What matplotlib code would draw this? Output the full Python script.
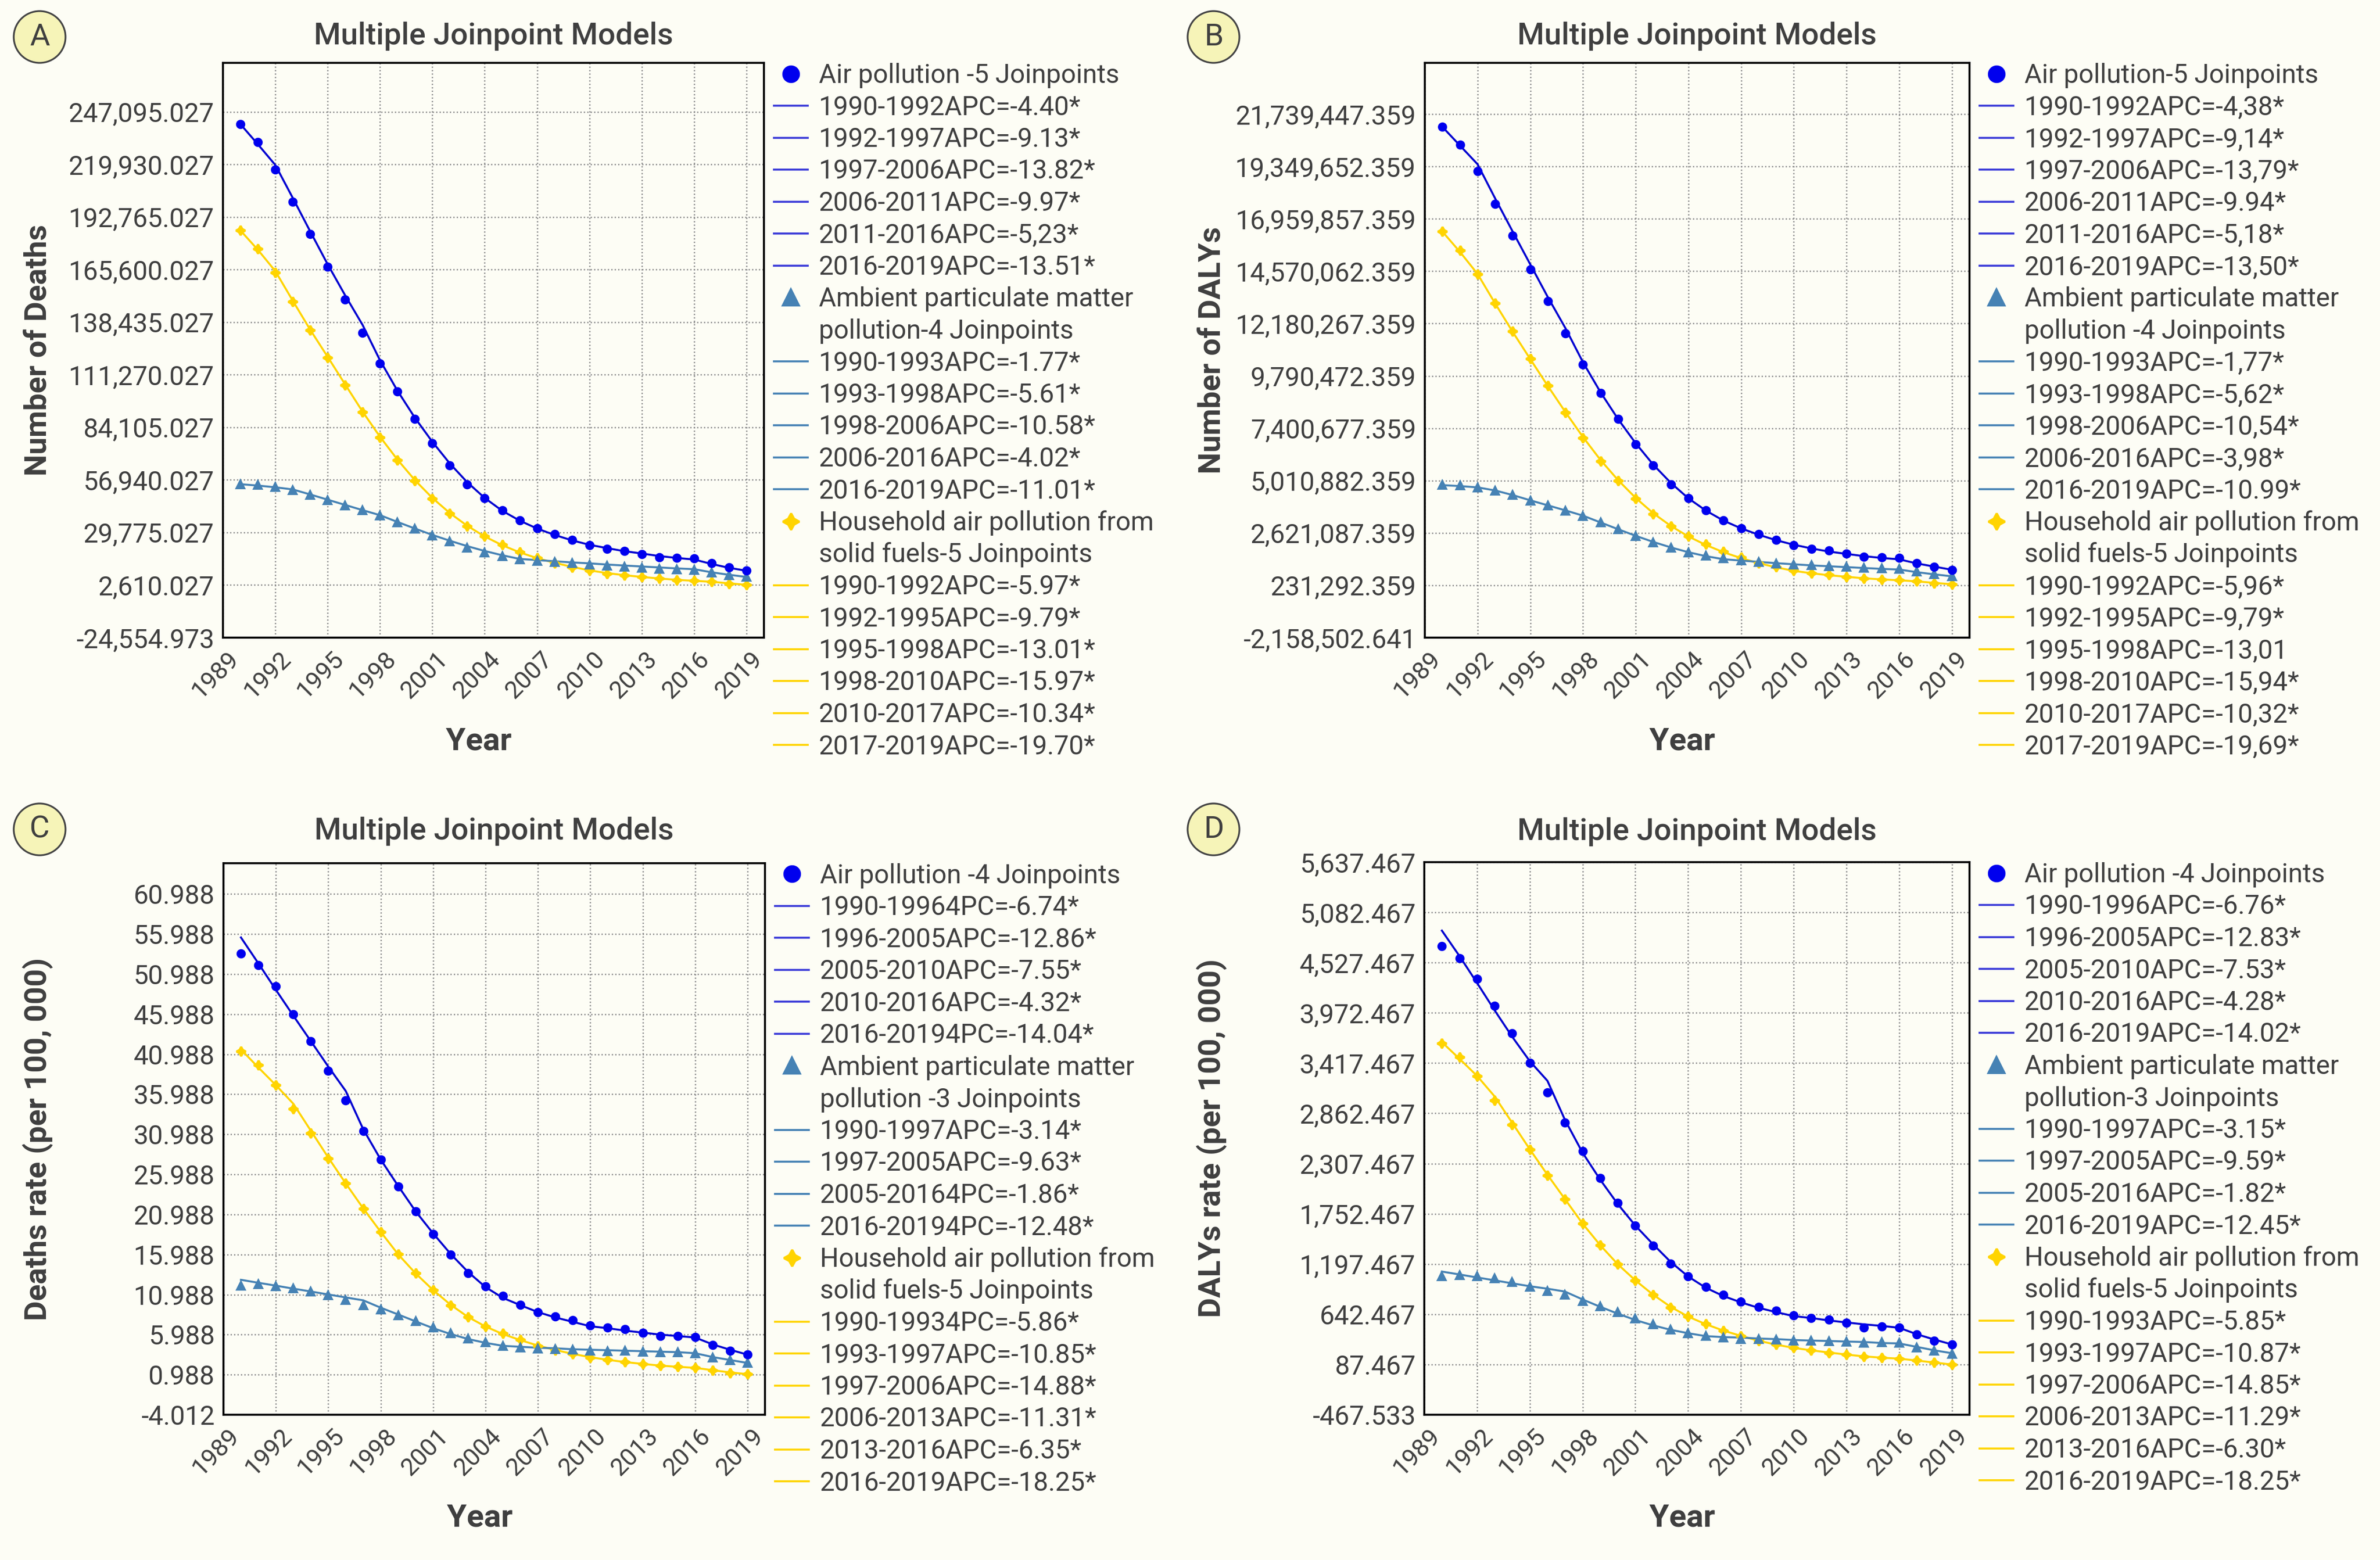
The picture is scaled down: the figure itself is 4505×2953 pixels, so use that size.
import matplotlib as mpl
mpl.use("Agg")
import matplotlib.pyplot as plt
from matplotlib.lines import Line2D
from matplotlib.patches import Ellipse
from matplotlib.ticker import FixedLocator, FuncFormatter
from matplotlib.transforms import ScaledTranslation

plt.rcParams['font.family'] = ['Roboto', 'DejaVu Sans']

years = list(range(1990, 2020))
xticks = [1989, 1992, 1995, 1998, 2001, 2004, 2007, 2010, 2013, 2016, 2019]

# ---------------- Panel A: Number of deaths ----------------
a_air_obs = [240700, 231300, 217300, 200600, 183800, 167000, 150000, 133000, 117200, 102500,
             88500, 76000, 64400, 54700, 47600, 41200, 36150, 31800, 28800, 26000,
             23200, 21400, 20100, 18600, 16800, 16600, 16300, 14000, 11750, 10200]
a_air_fit = [240700, 230300, 219600, 202600, 185300, 168300, 152300, 137000, 118700, 103000,
             89000, 76600, 65400, 55700, 47600, 41000, 35900, 31800, 28500, 25700,
             23400, 21700, 20100, 18900, 17600, 16600, 15800, 13500, 11500, 10000]
a_amb_obs = [54700, 54200, 53200, 51650, 49100, 46300, 43800, 41200, 38400, 34900,
             31600, 28000, 25000, 21900, 19400, 17600, 15800, 15100, 14550, 13800,
             13000, 12500, 12000, 11500, 11000, 10700, 10500, 8960, 7700, 6700]
a_amb_fit = [54700, 54000, 53100, 52000, 49400, 46700, 44000, 41300, 38700, 35200,
             31800, 28500, 25500, 22700, 20200, 18000, 16100, 15500, 14900, 14300,
             13800, 13200, 12700, 12200, 11700, 11200, 10800, 9200, 7900, 6800]
a_hh_obs = [185800, 176400, 164000, 149000, 134200, 120000, 106000, 92000, 78800, 67200,
            56500, 47300, 39500, 32900, 27800, 23400, 19600, 16600, 14000, 11800,
            10000, 8450, 7700, 6700, 5900, 5150, 4900, 4400, 3400, 2610]
a_hh_fit = [185800, 175800, 164800, 149500, 134500, 120500, 106300, 92200, 79200, 67400,
            56800, 47600, 39800, 33200, 27700, 23200, 19500, 16500, 14100, 12000,
            10200, 8800, 7700, 6800, 6000, 5300, 4800, 4300, 3500, 2700]
a_yticks = [-24554.973, 2610.027, 29775.027, 56940.027, 84105.027, 111270.027,
            138435.027, 165600.027, 192765.027, 219930.027, 247095.027]

# ---------------- Panel B: Number of DALYs ----------------
b_air_obs = [21157000, 20347000, 19142000, 17645000, 16191000, 14653000, 13198000, 11723000, 10310000, 9001000,
             7816000, 6673000, 5697000, 4845000, 4200000, 3660000, 3203000, 2829000, 2559000, 2309000,
             2060000, 1894000, 1810000, 1665000, 1520000, 1499000, 1478000, 1249000, 1083000, 938000]
b_air_fit = [21157000, 20305000, 19454000, 17895000, 16378000, 14882000, 13386000, 11972000, 10414000, 9043000,
             7816000, 6715000, 5738000, 4907000, 4200000, 3639000, 3182000, 2829000, 2538000, 2288000,
             2081000, 1914000, 1769000, 1665000, 1561000, 1478000, 1416000, 1229000, 1083000, 938000]
b_amb_obs = [4803000, 4782000, 4699000, 4553000, 4346000, 4096000, 3868000, 3639000, 3390000, 3099000,
             2787000, 2475000, 2185000, 1935000, 1727000, 1582000, 1457000, 1353000, 1291000, 1229000,
             1166000, 1146000, 1104000, 1062000, 1021000, 1000000, 979000, 855000, 730000, 647000]
b_amb_fit = [4803000, 4760000, 4700000, 4560000, 4350000, 4110000, 3880000, 3650000, 3410000, 3100000,
             2790000, 2490000, 2210000, 1960000, 1740000, 1560000, 1420000, 1360000, 1300000, 1240000,
             1190000, 1140000, 1100000, 1060000, 1020000, 980000, 950000, 830000, 730000, 640000]
b_hh_obs = [16378000, 15526000, 14445000, 13115000, 11827000, 10580000, 9333000, 8107000, 6964000, 5904000,
            5011000, 4180000, 3494000, 2933000, 2475000, 2101000, 1769000, 1499000, 1249000, 1062000,
            896000, 792000, 709000, 626000, 543000, 501000, 460000, 418000, 335000, 273000]
b_hh_fit = [16378000, 15450000, 14445000, 13100000, 11800000, 10560000, 9330000, 8140000, 7000000, 5950000,
            5030000, 4220000, 3520000, 2940000, 2460000, 2070000, 1740000, 1470000, 1240000, 1050000,
            890000, 780000, 690000, 620000, 550000, 500000, 460000, 410000, 340000, 280000]
b_yticks = [-2158502.641, 231292.359, 2621087.359, 5010882.359, 7400677.359, 9790472.359,
            12180267.359, 14570062.359, 16959857.359, 19349652.359, 21739447.359]

# ---------------- Panel C: Deaths rate ----------------
c_air_obs = [53.55, 52.09, 49.46, 45.98, 42.63, 38.90, 35.24, 31.39, 27.85, 24.49,
             21.38, 18.51, 15.95, 13.63, 12.04, 10.82, 9.72, 8.80, 8.25, 7.77,
             7.16, 6.85, 6.67, 6.18, 5.81, 5.81, 5.69, 4.71, 3.98, 3.49]
c_air_fit = [55.57, 52.33, 49.03, 45.80, 42.63, 39.45, 36.40, 31.63, 27.85, 24.55,
             21.38, 18.63, 16.07, 13.81, 11.92, 10.57, 9.66, 8.80, 8.13, 7.58,
             7.03, 6.79, 6.48, 6.24, 5.99, 5.81, 5.63, 4.77, 4.10, 3.49]
c_amb_obs = [12.10, 12.28, 12.04, 11.73, 11.37, 10.88, 10.33, 9.66, 9.11, 8.38,
             7.64, 6.85, 6.12, 5.51, 5.02, 4.59, 4.35, 4.23, 4.16, 4.10,
             3.98, 3.92, 3.98, 3.86, 3.74, 3.74, 3.67, 3.13, 2.76, 2.45]
c_amb_fit = [12.83, 12.46, 12.10, 11.73, 11.37, 11.00, 10.63, 10.27, 9.35, 8.50,
             7.64, 6.79, 6.06, 5.44, 4.96, 4.59, 4.47, 4.35, 4.28, 4.16,
             4.10, 4.04, 3.98, 3.92, 3.86, 3.80, 3.67, 3.19, 2.82, 2.45]
c_hh_obs = [41.34, 39.63, 37.13, 34.20, 31.15, 27.97, 24.86, 21.69, 18.82, 16.01,
            13.63, 11.55, 9.66, 8.19, 7.03, 6.12, 5.32, 4.59, 4.04, 3.55,
            3.13, 2.82, 2.58, 2.33, 2.09, 1.97, 1.84, 1.54, 1.23, 1.05]
c_hh_fit = [41.59, 39.33, 37.13, 34.81, 31.45, 28.09, 24.86, 21.75, 18.82, 16.01,
            13.63, 11.55, 9.72, 8.19, 7.00, 6.05, 5.30, 4.62, 4.07, 3.58,
            3.17, 2.84, 2.56, 2.33, 2.12, 1.97, 1.84, 1.55, 1.27, 1.05]
c_yticks = [-4.012, 0.988, 5.988, 10.988, 15.988, 20.988, 25.988, 30.988,
            35.988, 40.988, 45.988, 50.988, 55.988, 60.988]

# ---------------- Panel D: DALYs rate ----------------
d_air_obs = [4708, 4573, 4346, 4049, 3746, 3422, 3092, 2762, 2444, 2146,
             1871, 1622, 1401, 1201, 1060, 947, 855, 779, 725, 682,
             628, 601, 585, 547, 493, 509, 493, 417, 352, 309]
d_air_fit = [4881, 4600, 4303, 4000, 3708, 3438, 3222, 2789, 2427, 2130,
             1860, 1622, 1417, 1222, 1060, 936, 844, 774, 714, 666,
             622, 601, 574, 552, 531, 514, 493, 422, 363, 309]
d_amb_obs = [1060, 1071, 1060, 1038, 995, 947, 898, 855, 790, 730,
             666, 595, 531, 471, 433, 401, 385, 368, 368, 363,
             352, 347, 341, 336, 325, 331, 325, 276, 239, 206]
d_amb_fit = [1114, 1082, 1049, 1017, 984, 952, 925, 893, 806, 725,
             649, 579, 520, 471, 433, 401, 390, 385, 374, 368,
             358, 352, 347, 341, 336, 325, 320, 282, 244, 212]
d_hh_obs = [3638, 3486, 3276, 3005, 2735, 2460, 2179, 1914, 1644, 1406,
            1195, 1017, 855, 720, 617, 536, 460, 401, 347, 309,
            271, 244, 217, 195, 174, 163, 152, 131, 109, 87]
d_hh_fit = [3649, 3465, 3276, 3049, 2757, 2465, 2184, 1914, 1644, 1406,
            1195, 1017, 860, 725, 617, 533, 462, 404, 350, 307,
            271, 244, 220, 197, 177, 163, 152, 131, 109, 87]
d_yticks = [-467.533, 87.467, 642.467, 1197.467, 1752.467, 2307.467, 2862.467,
            3417.467, 3972.467, 4527.467, 5082.467, 5637.467]

# ---------------- Legend texts ----------------
a_leg = [["Air pollution -5 Joinpoints"],
         ["1990-1992APC=-4.40*", "1992-1997APC=-9.13*", "1997-2006APC=-13.82*",
          "2006-2011APC=-9.97*", "2011-2016APC=-5,23*", "2016-2019APC=-13.51*"],
         ["Ambient particulate matter", "pollution-4 Joinpoints"],
         ["1990-1993APC=-1.77*", "1993-1998APC=-5.61*", "1998-2006APC=-10.58*",
          "2006-2016APC=-4.02*", "2016-2019APC=-11.01*"],
         ["Household air pollution from", "solid fuels-5 Joinpoints"],
         ["1990-1992APC=-5.97*", "1992-1995APC=-9.79*", "1995-1998APC=-13.01*",
          "1998-2010APC=-15.97*", "2010-2017APC=-10.34*", "2017-2019APC=-19.70*"]]
b_leg = [["Air pollution-5 Joinpoints"],
         ["1990-1992APC=-4,38*", "1992-1997APC=-9,14*", "1997-2006APC=-13,79*",
          "2006-2011APC=-9.94*", "2011-2016APC=-5,18*", "2016-2019APC=-13,50*"],
         ["Ambient particulate matter", "pollution -4 Joinpoints"],
         ["1990-1993APC=-1,77*", "1993-1998APC=-5,62*", "1998-2006APC=-10,54*",
          "2006-2016APC=-3,98*", "2016-2019APC=-10.99*"],
         ["Household air pollution from", "solid fuels-5 Joinpoints"],
         ["1990-1992APC=-5,96*", "1992-1995APC=-9,79*", "1995-1998APC=-13,01",
          "1998-2010APC=-15,94*", "2010-2017APC=-10,32*", "2017-2019APC=-19,69*"]]
c_leg = [["Air pollution -4 Joinpoints"],
         ["1990-19964PC=-6.74*", "1996-2005APC=-12.86*", "2005-2010APC=-7.55*",
          "2010-2016APC=-4.32*", "2016-20194PC=-14.04*"],
         ["Ambient particulate matter", "pollution -3 Joinpoints"],
         ["1990-1997APC=-3.14*", "1997-2005APC=-9.63*", "2005-20164PC=-1.86*",
          "2016-20194PC=-12.48*"],
         ["Household air pollution from", "solid fuels-5 Joinpoints"],
         ["1990-19934PC=-5.86*", "1993-1997APC=-10.85*", "1997-2006APC=-14.88*",
          "2006-2013APC=-11.31*", "2013-2016APC=-6.35*", "2016-2019APC=-18.25*"]]
d_leg = [["Air pollution -4 Joinpoints"],
         ["1990-1996APC=-6.76*", "1996-2005APC=-12.83*", "2005-2010APC=-7.53*",
          "2010-2016APC=-4.28*", "2016-2019APC=-14.02*"],
         ["Ambient particulate matter", "pollution-3 Joinpoints"],
         ["1990-1997APC=-3.15*", "1997-2005APC=-9.59*", "2005-2016APC=-1.82*",
          "2016-2019APC=-12.45*"],
         ["Household air pollution from", "solid fuels-5 Joinpoints"],
         ["1990-1993APC=-5.85*", "1993-1997APC=-10.87*", "1997-2006APC=-14.85*",
          "2006-2013APC=-11.29*", "2013-2016APC=-6.30*", "2016-2019APC=-18.25*"]]

# ---------------- Styling ----------------
W, H, DPI = 4505, 2953, 300
BG = '#FDFDF5'
TXT = '#3f3f3f'
C_AIR, C_AIR_LINE, C_AIR_LEG = '#0000EE', '#0000D0', '#3A3AD8'
C_AMB = '#4682B4'
C_HH = '#FFD400'
STAR = (4, 1, 0)

fig = plt.figure(figsize=(W / DPI, H / DPI), dpi=DPI, facecolor=BG)

panels = [
    dict(letter='A', box=(422, 1446, 119, 1207), ylim=(-24554.973, 272350), yt=a_yticks,
         ylabel='Number of Deaths', data=(a_air_obs, a_air_fit, a_amb_obs, a_amb_fit, a_hh_obs, a_hh_fit),
         leg=a_leg, ylx=72, circ=(75, 70), title_dy=50),
    dict(letter='B', box=(2697, 3728, 119, 1207), ylim=(-2158502.641, 24080000), yt=b_yticks,
         ylabel='Number of DALYs', data=(b_air_obs, b_air_fit, b_amb_obs, b_amb_fit, b_hh_obs, b_hh_fit),
         leg=b_leg, ylx=2294, circ=(2297, 70), title_dy=50),
    dict(letter='C', box=(423, 1448, 1634, 2678), ylim=(-4.012, 64.84), yt=c_yticks,
         ylabel='Deaths rate (per 100, 000)', data=(c_air_obs, c_air_fit, c_amb_obs, c_amb_fit, c_hh_obs, c_hh_fit),
         leg=c_leg, ylx=72, circ=(75, 1570), title_dy=60),
    dict(letter='D', box=(2696, 3728, 1632, 2678), ylim=(-467.533, 5637.467), yt=d_yticks,
         ylabel='DALYs rate (per 100, 000)', data=(d_air_obs, d_air_fit, d_amb_obs, d_amb_fit, d_hh_obs, d_hh_fit),
         leg=d_leg, ylx=2294, circ=(2297, 1570), title_dy=58),
]

fmt = FuncFormatter(lambda v, p: '{:,.3f}'.format(v))
xshift = ScaledTranslation(7 / DPI, 0, fig.dpi_scale_trans)

for P in panels:
    l, r, t, b = P['box']
    ax = fig.add_axes([l / W, 1 - b / H, (r - l) / W, (b - t) / H])
    ax.set_facecolor(BG)
    air_o, air_f, amb_o, amb_f, hh_o, hh_f = P['data']

    ax.plot(years, hh_f, color=C_HH, lw=0.9, zorder=3)
    ax.plot(years, hh_o, ls='none', marker=STAR, ms=4.2, color=C_HH, zorder=4)
    ax.plot(years, amb_f, color=C_AMB, lw=0.9, zorder=3)
    ax.plot(years, amb_o, ls='none', marker='^', ms=3.3, color=C_AMB, zorder=4)
    ax.plot(years, air_f, color=C_AIR_LINE, lw=0.9, zorder=3)
    ax.plot(years, air_o, ls='none', marker='o', ms=3.2, color=C_AIR, zorder=4)

    ax.set_xlim(1989, 2020)
    ax.set_ylim(*P['ylim'])
    ax.xaxis.set_major_locator(FixedLocator(xticks))
    ax.yaxis.set_major_locator(FixedLocator(P['yt']))
    ax.yaxis.set_major_formatter(fmt)
    ax.grid(True, color='#8a8a8a', lw=0.6, ls=(0, (1, 1.6)))
    ax.set_axisbelow(True)
    ax.tick_params(length=0, labelcolor=TXT)
    ax.tick_params(axis='y', pad=4, labelsize=12)
    ax.tick_params(axis='x', pad=4.3, labelsize=11.2)
    for lab in ax.get_xticklabels():
        lab.set_rotation(45)
        lab.set_rotation_mode('anchor')
        lab.set_ha('right')
        lab.set_va('top')
        lab.set_transform(lab.get_transform() + xshift)
    for s in ax.spines.values():
        s.set_color('black')
        s.set_linewidth(0.9)

    wpx, hpx = r - l, b - t
    ax.set_ylabel(P['ylabel'], fontsize=14, fontweight='bold', color=TXT)
    ax.yaxis.set_label_coords((P['ylx'] - l) / wpx, 0.5)
    ax.set_xlabel('Year', fontsize=14.5, fontweight='bold', color=TXT)
    ax.xaxis.set_label_coords(0.473, -196 / hpx)
    ax.xaxis.label.set_va('center')
    ax.yaxis.label.set_va('center')
    ax.text(0.5, 1 + P['title_dy'] / hpx, 'Multiple Joinpoint Models', transform=ax.transAxes,
            ha='center', va='center', fontsize=14, fontweight='medium', color=TXT)

    # legend
    handles, labels = [], []
    blank = Line2D([], [], ls='none')
    groups = [(C_AIR, C_AIR_LEG, 'o'), (C_AMB, C_AMB, '^'), (C_HH, C_HH, STAR)]
    for gi, (mc, lc, mk) in enumerate(groups):
        head = P['leg'][2 * gi]
        handles.append(Line2D([], [], ls='none', marker=mk, ms=7.5 if mk == STAR else 7, color=mc))
        labels.append(head[0])
        for extra in head[1:]:
            handles.append(blank)
            labels.append(extra)
        for seg in P['leg'][2 * gi + 1]:
            handles.append(Line2D([], [], color=lc, lw=0.9))
            labels.append(seg)
    leg = ax.legend(handles, labels, loc='upper left', bbox_to_anchor=(1 + 19 / wpx, 1.0),
                    borderaxespad=0, borderpad=0, frameon=False, fontsize=12,
                    handlelength=1.28, handletextpad=0.42, labelspacing=0.25)
    for tx in leg.get_texts():
        tx.set_color(TXT)

    # panel letter badge
    cx, cy = P['circ']
    R = 49
    fig.add_artist(Ellipse((cx / W, 1 - cy / H), 2 * R / W, 2 * R / H, transform=fig.transFigure,
                           facecolor='#F6F4B8', edgecolor='#444444', lw=0.8))
    fig.text(cx / W, 1 - cy / H, P['letter'], ha='center', va='center', fontsize=14, color=TXT)

fig.savefig('out.png', dpi=DPI, facecolor=BG)
